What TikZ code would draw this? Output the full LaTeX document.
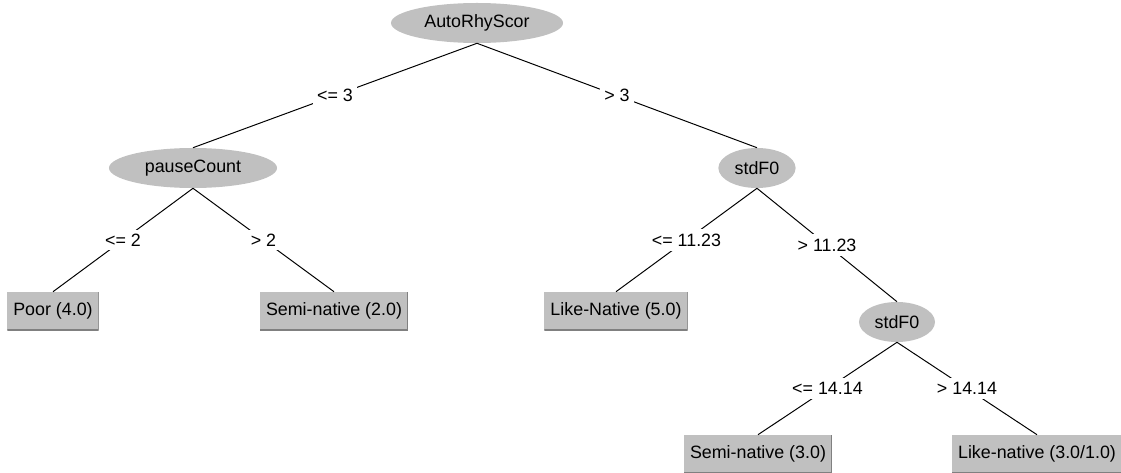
\documentclass[tikz,border=0pt]{standalone}
\usepackage{fontspec}
\setmainfont{Liberation Sans}
\usetikzlibrary{shapes.geometric}
\definecolor{nodegray}{RGB}{192,192,192}
\definecolor{shadegray}{RGB}{128,128,128}

\begin{document}
\begin{tikzpicture}[x=0.025cm, y=-0.025cm,
    font=\fontsize{12.7}{14}\selectfont,
    split/.style={ellipse, fill=nodegray, minimum height=1cm, inner sep=0pt},
    leaf/.style={rectangle, fill=nodegray, minimum height=0.95cm, inner xsep=0.15cm,
      path picture={\draw[shadegray, line width=1.4pt]
        (path picture bounding box.north east) -- (path picture bounding box.south east)
        -- (path picture bounding box.south west);}},
    cond/.style={fill=white, inner sep=3pt},
    branch/.style={draw, line width=0.7pt},
  ]
  \useasboundingbox (0,0) rectangle (1121,473);
  % inner nodes
  \node[split, minimum width=4.3cm] (root) at (477,23) {AutoRhyScor};
  \node[split, minimum width=4.2cm] (pause) at (193,168) {pauseCount};
  \node[split, minimum width=1.93cm] (std1) at (757,168) {stdF0};
  \node[split, minimum width=1.9cm] (std2) at (897,322) {stdF0};
  % leaves
  \node[leaf] (poor) at (53,311) {Poor (4.0)};
  \node[leaf] (semi1) at (334,311) {Semi-native (2.0)};
  \node[leaf] (like1) at (616,311) {Like-Native (5.0)};
  \node[leaf] (semi2) at (758,454) {Semi-native (3.0)};
  \node[leaf] (like2) at (1037,454) {Like-native (3.0/1.0)};
  % branches
  \draw[branch] (root.south) -- node[cond] {<= 3} (pause.north);
  \draw[branch] (root.south) -- node[cond] {> 3} (std1.north);
  \draw[branch] (pause.south) -- node[cond] {<= 2} (poor.north);
  \draw[branch] (pause.south) -- node[cond] {> 2} (semi1.north);
  \draw[branch] (std1.south) -- node[cond] {<= 11.23} (like1.north);
  \draw[branch] (std1.south) -- node[cond] {> 11.23} (std2.north);
  \draw[branch] (std2.south) -- node[cond] {<= 14.14} (semi2.north);
  \draw[branch] (std2.south) -- node[cond] {> 14.14} (like2.north);
\end{tikzpicture}
\end{document}
